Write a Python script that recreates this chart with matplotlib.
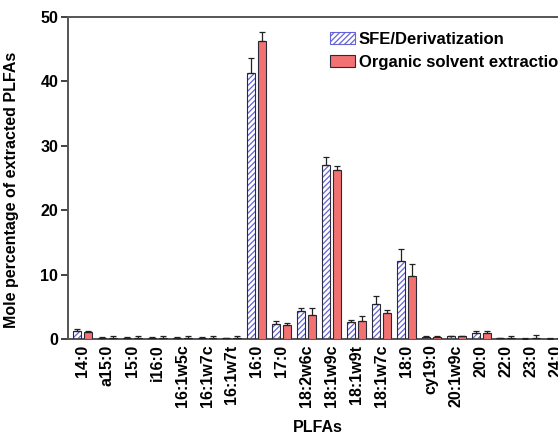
import matplotlib
matplotlib.use("Agg")
import matplotlib.pyplot as plt
from matplotlib.patches import Patch
import numpy as np

categories = ["14:0", "a15:0", "15:0", "i16:0", "16:1w5c", "16:1w7c", "16:1w7t",
              "16:0", "17:0", "18:2w6c", "18:1w9c", "18:1w9t", "18:1w7c", "18:0",
              "cy19:0", "20:1w9c", "20:0", "22:0", "23:0", "24:0"]
sfe = [1.2, 0.2, 0.2, 0.2, 0.15, 0.2, 0.1, 41.3, 2.3, 4.35, 27.0, 2.6, 5.5, 12.1,
       0.3, 0.4, 1.0, 0.1, 0.05, 0.05]
sfe_err = [0.3, 0.1, 0.1, 0.1, 0.1, 0.1, 0.1, 2.3, 0.5, 0.5, 1.2, 0.3, 1.2, 1.9,
           0.1, 0.1, 0.3, 0.1, 0.1, 0.1]
org = [1.1, 0.2, 0.2, 0.2, 0.15, 0.2, 0.1, 46.3, 2.2, 3.8, 26.2, 2.8, 4.0, 9.8,
       0.3, 0.4, 1.0, 0.1, 0.1, 0.1]
org_err = [0.2, 0.3, 0.3, 0.3, 0.3, 0.3, 0.3, 1.4, 0.3, 1.0, 0.7, 0.8, 0.45, 1.8,
           0.2, 0.1, 0.3, 0.4, 0.5, 0.6]
series_names = ["SFE/Derivatization", "Organic solvent extraction"]

plt.rcParams['font.family'] = ['Liberation Sans', 'DejaVu Sans']
plt.rcParams['font.weight'] = 'bold'
plt.rcParams['hatch.linewidth'] = 0.9

fig = plt.figure(figsize=(5.58, 4.34), dpi=100)
ax = fig.add_axes([0.1219, 0.2189, 0.90, 0.742])

x = np.arange(len(categories))
w = 0.32
off = 0.22
blue = '#6464d8'
red = '#f27272'
edge = '#2a2a3a'

# SFE bars: hatched layer + outline
ax.bar(x - off, sfe, w, facecolor='white', edgecolor=blue, hatch='//////', linewidth=0, zorder=2)
ax.bar(x - off, sfe, w, fill=False, edgecolor=edge, linewidth=0.8, zorder=3)
ax.errorbar(x - off, sfe, yerr=[np.zeros(len(sfe)), sfe_err], fmt='none', ecolor='#222222',
            elinewidth=0.9, capsize=2.5, capthick=0.9, zorder=4)

# Organic bars
ax.bar(x + off, org, w, facecolor=red, edgecolor=edge, linewidth=0.8, zorder=3)
ax.errorbar(x + off, org, yerr=[np.zeros(len(org)), org_err], fmt='none', ecolor='#222222',
            elinewidth=0.9, capsize=2.5, capthick=0.9, zorder=4)

ax.set_xlim(-0.58, 19.58)
ax.set_ylim(0, 50)
ax.set_yticks([0, 10, 20, 30, 40, 50])
ax.set_yticklabels(['0', '10', '20', '30', '40', '50'], fontsize=11.5, fontweight='bold')
ax.set_xticks(x)
ax.set_xticklabels(categories, rotation=90, fontsize=11.5, fontweight='bold')
ax.tick_params(axis='x', length=0, pad=4)
ax.tick_params(axis='y', direction='out', length=5, width=1.3, pad=2, color='#333333')
for side in ['left', 'bottom', 'top', 'right']:
    ax.spines[side].set_color('#555555')
    ax.spines[side].set_linewidth(1.4)

fig.text(12 / 558, 1 - 190 / 434, "Mole percentage of extracted PLFAs", rotation=90,
         ha='center', va='center', fontsize=11.5, fontweight='bold')
fig.text(318 / 558, 1 - 428 / 434, "PLFAs", ha='center', va='center',
         fontsize=11.5, fontweight='bold')

handles = [Patch(facecolor='white', edgecolor=blue, hatch='//////', linewidth=0.8),
           Patch(facecolor=red, edgecolor=edge, linewidth=0.8)]
leg = fig.legend(handles, series_names, loc='upper left', bbox_to_anchor=(0.591, 0.926),
                 frameon=False, fontsize=12, handlelength=1.5, handleheight=0.75,
                 handletextpad=0.25, labelspacing=0.45, borderaxespad=0, borderpad=0)
for t in leg.get_texts():
    t.set_fontweight('bold')

fig.savefig("out.png", dpi=100)
